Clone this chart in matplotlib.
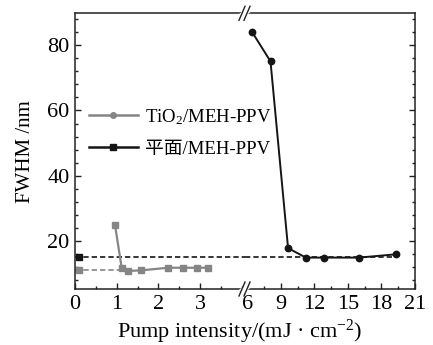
import matplotlib
matplotlib.use("Agg")
import matplotlib.pyplot as plt
from matplotlib.lines import Line2D
from matplotlib.ticker import MultipleLocator

plt.rcParams['font.family'] = ['Liberation Serif', 'Noto Sans CJK SC']
plt.rcParams['mathtext.fontset'] = 'custom'
plt.rcParams['mathtext.rm'] = 'Liberation Serif'
plt.rcParams['mathtext.it'] = 'Liberation Serif:italic'

# ---- data ----
tio2_x = [0.96, 1.12, 1.28, 1.58, 2.24, 2.60, 2.92, 3.20]
tio2_y = [25.0, 11.9, 10.9, 11.1, 11.9, 11.9, 11.9, 11.9]
flat_x = [6.43, 8.08, 9.65, 11.24, 12.85, 15.98, 19.27]
flat_y = [84.0, 75.0, 17.9, 15.0, 15.0, 15.0, 16.0]
ref_x = [0.1]
flat_ref_y = [15.2]
tio2_ref_y = [11.35]
left_xticks = [0, 1, 2, 3]
right_xticks = [6, 9, 12, 15, 18, 21]
yticks = [20, 40, 60, 80]
labels = ['TiO$_2$/MEH-PPV', '平面/MEH-PPV']

black = '#151515'
gray = '#858585'

fig = plt.figure(figsize=(4.33, 3.45), dpi=100)
W, H = 433, 345
x0, xb, x1 = 75, 245, 415
yt, yb = 13.3, 289
ax1 = fig.add_axes([x0 / W, 1 - yb / H, (xb - x0) / W, (yb - yt) / H])
ax2 = fig.add_axes([xb / W, 1 - yb / H, (x1 - xb) / W, (yb - yt) / H])

ylim = (5.4, 89.7)
ax1.set_xlim(0, 4.08)
ax2.set_xlim(5.8, 21)
for ax in (ax1, ax2):
    ax.set_ylim(*ylim)
    for s in ax.spines.values():
        s.set_linewidth(1.1)
        s.set_color('#222222')

ax1.spines['right'].set_visible(False)
ax2.spines['left'].set_visible(False)

# reference dashed lines
ax1.axhline(flat_ref_y[0], xmin=0, xmax=1, color=black, lw=1.2, dashes=(3.2, 1.8))
ax2.axhline(flat_ref_y[0], xmin=0, xmax=(19.35 - 5.8) / (21 - 5.8), color=black, lw=1.2, dashes=(3.2, 1.8))
ax1.plot([0, 1.1], [tio2_ref_y[0]] * 2, color=gray, lw=1.2, dashes=(3.2, 1.8))
ax1.plot(ref_x, flat_ref_y, 's', color=black, ms=4, clip_on=False)
ax1.plot(ref_x, tio2_ref_y, 's', color=gray, ms=4, clip_on=False)

# data
ax1.plot(tio2_x, tio2_y, '-s', color=gray, lw=1.6, ms=4.2)
ax2.plot(flat_x, flat_y, '-o', color=black, lw=1.4, ms=4.6)

# ticks
ax1.set_xticks(left_xticks)
ax1.xaxis.set_minor_locator(MultipleLocator(0.5))
ax2.set_xticks(right_xticks)
ax2.xaxis.set_minor_locator(MultipleLocator(1.5))
for ax in (ax1, ax2):
    ax.set_yticks(yticks)
    ax.yaxis.set_minor_locator(MultipleLocator(4))
    ax.tick_params(which='both', direction='in', top=False, labelsize=16,
                   width=1.0, color='#222222', pad=4)
    ax.tick_params(which='major', length=4)
    ax.tick_params(which='minor', length=2.5)
ax1.tick_params(axis='y', which='both', left=True, right=False)
ax2.tick_params(axis='y', which='both', left=False, right=True, labelleft=False)

ax1.set_ylabel('FWHM /nm', fontsize=15, labelpad=9)
fig.text(240 / W, 1 - 332 / H, 'Pump intensity/(mJ · cm$^{-2}$)',
         ha='center', va='center', fontsize=16)

# break marks
for yy in (yt, yb):
    fy = 1 - yy / H
    fig.add_artist(Line2D([(xb - 4) / W, (xb + 3) / W], [fy - 0.008, fy + 0.008],
                          color='white', lw=4, transform=fig.transFigure))
    for dx in (-3, 2):
        fig.add_artist(Line2D([(xb + dx - 3) / W, (xb + dx + 3) / W],
                              [fy - 7 / H, fy + 7 / H], color='#222222', lw=1.0,
                              transform=fig.transFigure))

# legend (markers swapped as in the original)
handles = [Line2D([], [], color=gray, lw=1.8, marker='o', ms=4),
           Line2D([], [], color=black, lw=1.8, marker='s', ms=4)]
fig.legend(handles, labels, loc='center left', bbox_to_anchor=(89 / W, 1 - 132.5 / H),
           frameon=False, fontsize=13.5, handlelength=2.6, handletextpad=0.4,
           labelspacing=0.75, borderpad=0, borderaxespad=0)

fig.savefig('out.png', dpi=100)
